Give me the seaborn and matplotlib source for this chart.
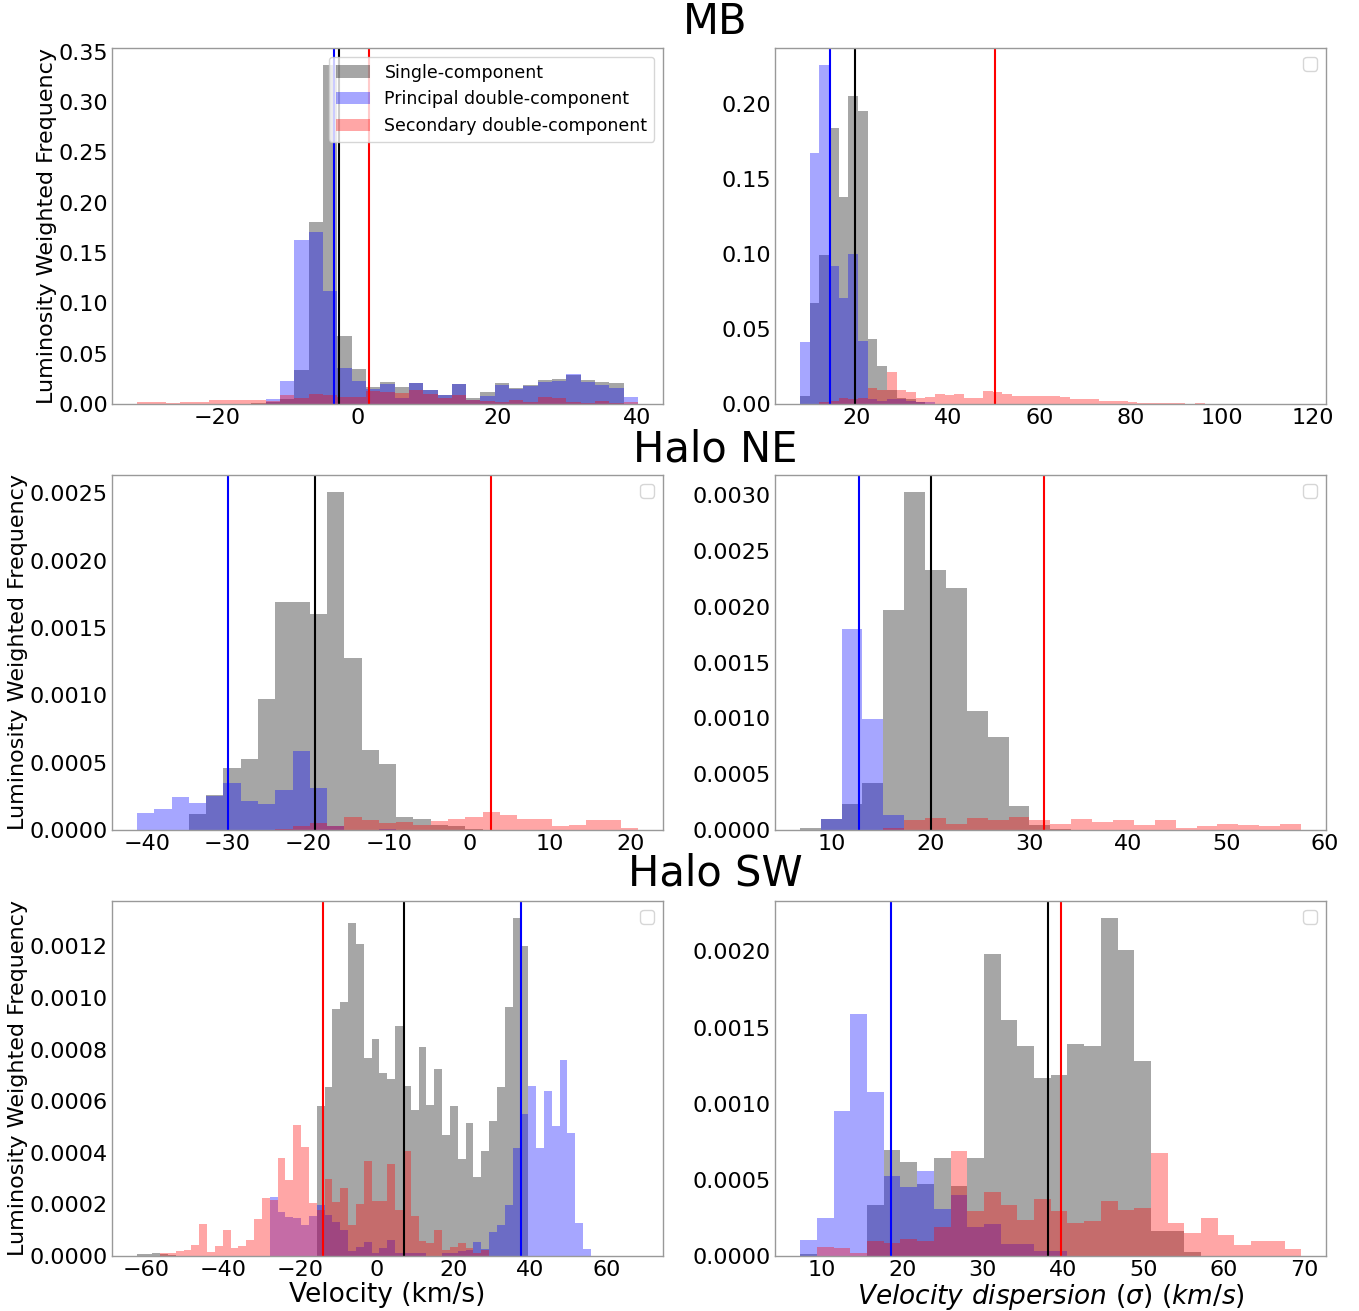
import numpy as np
import pandas as pd
import matplotlib
matplotlib.use("Agg")
import matplotlib.pyplot as plt
import seaborn as sns
from matplotlib.patches import Patch
from matplotlib.ticker import MultipleLocator

sns.set_theme(style="white")
plt.rcParams["font.family"] = ["DejaVu Sans"]
plt.rcParams.update({"text.color": "black", "axes.labelcolor": "black",
                     "xtick.color": "black", "ytick.color": "black"})

# ---------------- data ----------------
region_titles = ["MB", "Halo NE", "Halo SW"]
series_labels = ["Single-component", "Principal double-component", "Secondary double-component"]

# MB velocity (bins: start, width, count)
mb_vel_bins = (-31.53, 2.047, 35)
mb_vel_single = [0, 0, 0, 0, 0, 0, 0, 0, 0.001, 0.002, 0.005, 0.034, 0.181, 0.337, 0.068, 0.035, 0.017,
                 0.0216, 0.017, 0.021, 0.014, 0.009, 0.020, 0.0056, 0.0123, 0.0206, 0.0156, 0.019, 0.024,
                 0.0246, 0.029, 0.024, 0.022, 0.0206, 0]
mb_vel_principal = [0, 0, 0, 0, 0, 0, 0, 0, 0, 0.005, 0.023, 0.1635, 0.171, 0.112, 0.036, 0.023, 0.015,
                    0.0196, 0.006, 0.0206, 0.014, 0.009, 0.0196, 0.004, 0.008, 0.019, 0.0146, 0.018, 0.022,
                    0.023, 0.030, 0.022, 0.019, 0.0156, 0.0066]
mb_vel_secondary = [0.0017, 0.0017, 0.0007, 0.0017, 0.0017, 0.0043, 0.0043, 0.0043, 0.0043, 0.003, 0.0086,
                    0.0056, 0.0096, 0.0086, 0.0066, 0.0073, 0.0126, 0.012, 0.011, 0.014, 0.0096, 0.0056,
                    0.009, 0.004, 0.0033, 0.0023, 0.004, 0.002, 0.0066, 0.0056, 0.002, 0.0013, 0.0033,
                    0.0013, 0.0023]
mb_vel_means = [-2.57, -3.33, 1.71]

# MB velocity dispersion
mb_sig_bins = (7.62, 2.11, 52)
mb_sig_single = [0.005, 0.067, 0.099, 0.184, 0.138, 0.205, 0.195, 0.043, 0.025, 0.009, 0.004, 0.003, 0.001] + [0] * 39
mb_sig_principal = [0.041, 0.1675, 0.226, 0.092, 0.0706, 0.100, 0.042, 0.003, 0.002, 0.003, 0.003, 0.002,
                    0.001, 0.001] + [0] * 38
mb_sig_secondary = [0, 0, 0.001, 0.002, 0.0038, 0.003, 0.004, 0.0105, 0.009, 0.021, 0.009, 0.0082, 0.0042,
                    0.0049, 0.0067, 0.006, 0.0065, 0.0042, 0.0042, 0.0087, 0.0082, 0.0065, 0.005, 0.0055,
                    0.005, 0.0053, 0.0053, 0.0045, 0.0036, 0.0036, 0.003, 0.002, 0.002, 0.0018, 0.0012,
                    0.0008, 0.0008, 0.0006, 0.0005, 0.0004, 0.0003, 0.0005, 0.0003, 0.0003, 0.0002, 0.0002,
                    0.0003, 0.0002, 0.0001, 0.0001, 0.0002, 0.0003]
mb_sig_means = [19.6, 14.1, 50.3]

# Halo NE velocity
ne_vel_bins = (-41.2, 2.142, 29)
ne_vel_single = [0, 0, 0, 0.000117, 0.000263, 0.000459, 0.00053, 0.000972, 0.00169, 0.00169, 0.0016,
                 0.00251, 0.00128, 0.000595, 0.00049, 0.000094, 0.00008, 0.000037, 0.00003, 0.00001,
                 0, 0, 0, 0, 0, 0, 0, 0, 0]
ne_vel_principal = [0.000129, 0.000156, 0.000243, 0.000203, 0.000255, 0.00035, 0.000216, 0.000196, 0.000298,
                    0.000585, 0.00031, 0.00003, 0, 0, 0.00001, 0, 0, 0, 0, 0, 0, 0, 0, 0, 0, 0, 0, 0, 0]
ne_vel_secondary = [0, 0, 0, 0, 0, 0, 0, 0, 0.00001, 0.00003, 0.000055, 0.00003, 0.000094, 0.000074,
                    0.00005, 0.000062, 0.000037, 0.000064, 0.000084, 0.000094, 0.000134, 0.00011, 0.000079,
                    0.000079, 0.000032, 0.000037, 0.000072, 0.000072, 0.000012]
ne_vel_means = [-19.16, -29.95, 2.72]

# Halo NE velocity dispersion
ne_sig_bins = (6.72, 2.118, 24)
ne_sig_single = [0.000018, 0.0001, 0.000236, 0.000424, 0.00197, 0.00303, 0.00233, 0.00217, 0.00107, 0.00083,
                 0.000218, 0.000045, 0.00001, 0, 0, 0, 0, 0, 0, 0, 0, 0, 0, 0]
ne_sig_principal = [0, 0.0001, 0.0018, 0.000994, 0.000137, 0, 0, 0, 0, 0, 0, 0, 0, 0, 0, 0, 0, 0, 0, 0, 0,
                    0, 0, 0]
ne_sig_secondary = [0, 0, 0, 0, 0.000015, 0.000087, 0.000107, 0.00005, 0.00011, 0.00009, 0.000116, 0.000087,
                    0.00005, 0.0001, 0.000075, 0.000087, 0.000045, 0.00009, 0.000015, 0.00004, 0.000054,
                    0.000045, 0.00004, 0.000054]
ne_sig_means = [20.07, 12.77, 31.45]

# Halo SW velocity
sw_vel_bins = (-62.6, 2.0435, 64)
sw_vel_single = [0.000008, 0.000008, 0.000013, 0.000008, 0.000005, 0, 0, 0, 0, 0, 0, 0, 0, 0, 0, 0, 0, 0,
                 0, 0, 0, 0, 0, 0.000582, 0.000655, 0.000957, 0.000983, 0.00129, 0.00121, 0.000767,
                 0.000842, 0.000709, 0.000686, 0.000893, 0.00066, 0.000564, 0.00081, 0.000586, 0.000724,
                 0.00047, 0.000582, 0.000375, 0.000517, 0.000308, 0.000405, 0.000525, 0.000655, 0.000965,
                 0.00131, 0.0012, 0, 0, 0, 0, 0, 0, 0, 0, 0, 0, 0, 0, 0, 0]
sw_vel_principal = [0, 0, 0, 0, 0, 0, 0, 0, 0, 0, 0, 0, 0, 0, 0, 0, 0, 0.00023, 0.00017, 0.00015, 0.000146,
                    0.00012, 0.000155, 0.000198, 0.000159, 0.00013, 0.0001, 0.00002, 0.000036, 0.000056,
                    0.00001, 0.00003, 0.000062, 0.00001, 0.00001, 0.000013, 0.00001, 0, 0, 0.00001, 0.00001,
                    0.00002, 0.000023, 0.000056, 0.000026, 0.000094, 0.00012, 0.000198, 0.00042, 0.000551,
                    0.00066, 0.000418, 0.00064, 0.000505, 0.00076, 0.000477, 0.000127, 0.000026,
                    0, 0, 0, 0, 0, 0]
sw_vel_secondary = [0, 0, 0, 0.00001, 0.00001, 0.00002, 0.000023, 0.000043, 0.000124, 0.000014, 0.000039,
                    0.0001, 0.000032, 0.00004, 0.000062, 0.000144, 0.000224, 0.000217, 0.000379, 0.000295,
                    0.000508, 0.000422, 0.000204, 0.00018, 0.0003, 0.00021, 0.000263, 0.00012, 0.0002,
                    0.000369, 0.000213, 0.000213, 0.000357, 0.000178, 0.000407, 0.000155, 0.000058,
                    0.000049, 0.0001, 0.000023, 0.000036, 0.000052, 0.00003, 0.00001, 0.000023,
                    0, 0, 0, 0, 0, 0, 0, 0, 0, 0, 0, 0, 0, 0, 0, 0, 0, 0, 0]
sw_vel_means = [7.2, 37.7, -14.1]

# Halo SW velocity dispersion
sw_sig_bins = (7.34, 2.076, 30)
sw_sig_single = [0.00001, 0, 0, 0, 0.000338, 0.000699, 0.000616, 0.000472, 0.000644, 0.000458, 0.000644,
                 0.00198, 0.00155, 0.00138, 0.00117, 0.00119, 0.00139, 0.00138, 0.00222, 0.00201, 0.00128,
                 0.000166, 0.000164, 0.000028, 0, 0, 0, 0, 0, 0]
sw_sig_principal = [0.000105, 0.000251, 0.00095, 0.00159, 0.00108, 0.000524, 0.000454, 0.000557, 0.000308,
                    0.0004, 0.000192, 0.00021, 0.000076, 0.000079, 0.00003, 0.000033, 0, 0, 0, 0, 0, 0, 0,
                    0, 0, 0, 0, 0, 0, 0]
sw_sig_secondary = [0, 0.000057, 0.000052, 0.000022, 0.000098, 0.000087, 0.000109, 0.0001, 0.000188,
                    0.000688, 0.000297, 0.000417, 0.000334, 0.000236, 0.000373, 0.000295, 0.000218,
                    0.000229, 0.000362, 0.000301, 0.000312, 0.000677, 0.000214, 0.000148, 0.000247,
                    0.00014, 0.000072, 0.0001, 0.000098, 0.000046]
sw_sig_means = [38.1, 18.6, 39.7]

x_labels = ["Velocity (km/s)", r"$Velocity\ dispersion\ (\sigma)\ (km/s)$"]
y_label = "Luminosity Weighted Frequency"

# ---------------- figure ----------------
W, H = 1359, 1311
fig = plt.figure(figsize=(W / 100, H / 100), dpi=100)

col_px = [(112, 663), (775, 1326)]
row_px = [(48, 404), (475, 830), (901, 1256)]
title_y = [22, 449, 873]

panels = [
    [(mb_vel_bins, mb_vel_single, mb_vel_principal, mb_vel_secondary, mb_vel_means, (-35.1, 43.7), 20),
     (mb_sig_bins, mb_sig_single, mb_sig_principal, mb_sig_secondary, mb_sig_means, (2.1, 122.8), 20)],
    [(ne_vel_bins, ne_vel_single, ne_vel_principal, ne_vel_secondary, ne_vel_means, (-44.3, 24.0), 10),
     (ne_sig_bins, ne_sig_single, ne_sig_principal, ne_sig_secondary, ne_sig_means, (4.2, 60.1), 10)],
    [(sw_vel_bins, sw_vel_single, sw_vel_principal, sw_vel_secondary, sw_vel_means, (-69.0, 74.7), 20),
     (sw_sig_bins, sw_sig_single, sw_sig_principal, sw_sig_secondary, sw_sig_means, (4.2, 72.7), 10)],
]

colors = ["#000000", "#0000ff", "#ff0000"]
ALPHA = 0.35

for r in range(3):
    fig.text(715 / W, 1 - title_y[r] / H, region_titles[r], ha="center", va="center", fontsize=30)
    for c in range(2):
        (start, width, n), s1, s2, s3, means, xlim, xstep = panels[r][c]
        x0, x1 = col_px[c]
        y0, y1 = row_px[r]
        ax = fig.add_axes([x0 / W, 1 - y1 / H, (x1 - x0) / W, (y1 - y0) / H])
        edges = [start + width * k for k in range(n + 1)]
        centers = [0.5 * (edges[k] + edges[k + 1]) for k in range(n)]
        for heights, col in zip([s1, s2, s3], colors):
            df = pd.DataFrame({"value": centers, "weight": [float(h) for h in heights]})
            sns.histplot(data=df, x="value", weights="weight", bins=edges, stat="count",
                         color=col, alpha=ALPHA, linewidth=0, ax=ax)
        for m, col in zip(means, colors):
            ax.axvline(m, color=col, lw=1.5)
        ax.set_xlim(*xlim)
        ax.set_ylim(0, max(max(s1), max(s2), max(s3)) * 1.05)
        ax.xaxis.set_major_locator(MultipleLocator(xstep))
        ax.tick_params(labelsize=16, length=0, pad=3, bottom=False, left=False)
        for sp in ax.spines.values():
            sp.set_color("#999999")
            sp.set_linewidth(1)
        ax.set_ylabel(y_label if c == 0 else "", fontsize=16, labelpad=1)
        ax.set_xlabel(x_labels[c] if r == 2 else "", fontsize=19, labelpad=1)
        if r == 0 and c == 0:
            handles = [Patch(facecolor=col, alpha=ALPHA, edgecolor="none") for col in colors]
            ax.legend(handles, series_labels, loc="upper right", fontsize=12.5)
        else:
            ax.legend(handles=[], loc="upper right", fontsize=12.5)

fig.savefig("out.png", dpi=100)
